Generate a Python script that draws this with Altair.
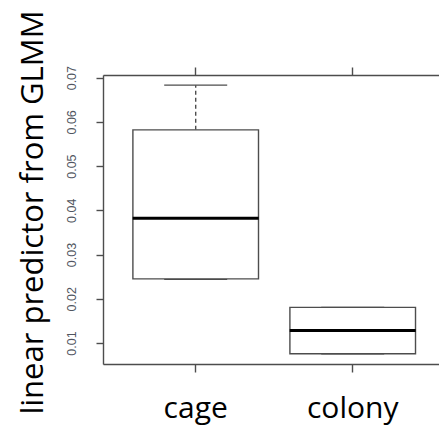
import altair as alt
import pandas as pd

groups = ["cage", "colony"]
lower = [0.0244, 0.00756]
q1 = [0.0245, 0.00756]
median = [0.0382, 0.01285]
q3 = [0.0582, 0.01805]
upper = [0.0683, 0.01805]
y_ticks = [0.01, 0.02, 0.03, 0.04, 0.05, 0.06, 0.07]

df = pd.DataFrame({"group": groups, "lower": lower, "q1": q1, "median": median,
                   "q3": q3, "upper": upper})

GRAY = "#4d4d4d"
LW = 1.4
xscale = alt.Scale(domain=groups, paddingInner=0.2, paddingOuter=0.17, align=0.56)
yscale = alt.Scale(domain=[0.00525, 0.0706], nice=False, zero=False)

base = alt.Chart(df)

x_bottom = alt.X("group:N", scale=xscale, sort=groups,
                 axis=alt.Axis(orient="bottom", title=None, labelAngle=0,
                               labelFont="Open Sans", labelFontSize=30, labelColor="black",
                               labelBaseline="alphabetic", labelPadding=45,
                               tickSize=8, tickColor=GRAY, tickWidth=LW,
                               domainColor=GRAY, domainWidth=LW))
x_top = alt.X("group:N", scale=xscale, sort=groups,
              axis=alt.Axis(orient="top", title=None, labels=False,
                            tickSize=8, tickColor=GRAY, tickWidth=LW,
                            domainColor=GRAY, domainWidth=LW))
x_none = alt.X("group:N", scale=xscale, sort=groups, axis=None)

y_axis = alt.Axis(values=y_ticks, format=".2f", grid=False,
                  labelAngle=270, labelAlign="center", labelBaseline="alphabetic",
                  labelPadding=21, labelFont="Liberation Sans", labelFontSize=12.5,
                  labelColor="#505560", tickSize=7, tickColor=GRAY, tickWidth=LW,
                  domainColor=GRAY, domainWidth=LW,
                  title="linear predictor from GLMM", titleFont="Open Sans",
                  titleFontSize=31, titleFontWeight="normal", titleColor="black",
                  titleAngle=270, titleAlign="center", titleBaseline="alphabetic",
                  titleX=-61, titleY=137)

whisk_up = base.mark_rule(color=GRAY, strokeWidth=LW, strokeDash=[4, 3]).encode(
    x=x_top, y=alt.Y("q3:Q", scale=yscale, axis=y_axis), y2="upper:Q")
whisk_lo = base.mark_rule(color=GRAY, strokeWidth=LW, strokeDash=[4, 3]).encode(
    x=x_none, y=alt.Y("lower:Q", scale=yscale), y2="q1:Q")
cap_up = base.mark_tick(color=GRAY, thickness=LW, size=63, opacity=1).encode(
    x=x_none, y=alt.Y("upper:Q", scale=yscale))
cap_lo = base.mark_tick(color=GRAY, thickness=LW, size=63, opacity=1).encode(
    x=x_none, y=alt.Y("lower:Q", scale=yscale))
box = base.mark_bar(fill="white", stroke=GRAY, strokeWidth=LW, opacity=1).encode(
    x=x_bottom, y=alt.Y("q1:Q", scale=yscale), y2="q3:Q")
med = base.mark_tick(color="black", thickness=3, size=126, opacity=1).encode(
    x=x_none, y=alt.Y("median:Q", scale=yscale))

chart = alt.layer(whisk_up, whisk_lo, cap_up, cap_lo, box, med).resolve_axis(
    x="independent"
).properties(
    width=336, height=289,
    padding={"left": 103, "top": 75, "right": 0, "bottom": 64},
    autosize=alt.AutoSizeParams(type="none"),
).configure_view(stroke=None).configure(background="white")

chart.save("out.html", embed_options={"renderer": "svg", "actions": False})
